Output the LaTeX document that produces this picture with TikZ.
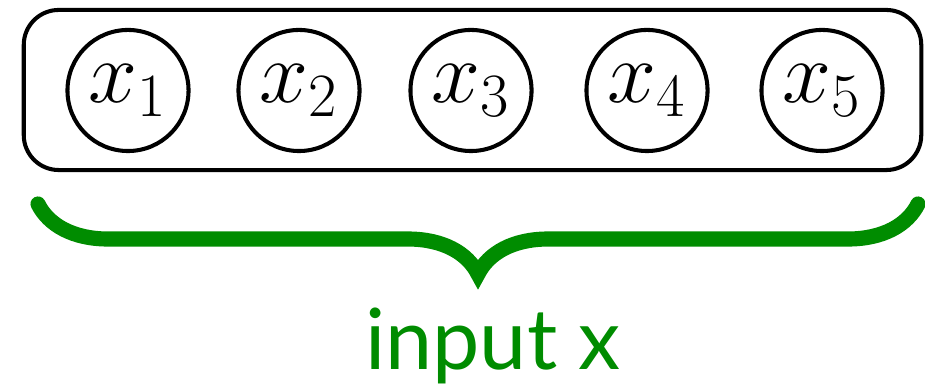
\documentclass[tikz,border=0pt]{standalone}
\usepackage{fix-cm}
\usepackage{fontspec}
\newfontfamily\labelfont{Lato}
\usetikzlibrary{shapes,positioning,calc,decorations.pathreplacing}
\definecolor{cgreen}{HTML}{008C00}

\begin{document}
\begin{tikzpicture}[x=0.01cm, y=-0.01cm,
      inp/.style={draw, circle, line width=1.15pt, minimum size=1.21cm, inner sep=0pt, font=\fontsize{25}{30}\selectfont},
      frame/.style={draw, rounded corners=0.35cm, line width=1.15pt, minimum width=8.97cm, minimum height=1.6cm},
      brc/.style={cgreen, line width=4.3pt, line cap=round, decorate, decoration={brace, mirror, amplitude=0.7cm}}
    ]
    \useasboundingbox (0,0) rectangle (925,389);
    \node[frame] (box) at (472.5,90) {};
    \node[inp] (x1) at (128,90.5) {$x_1$};
    \node[inp] (x2) at (299,90.5) {$x_2$};
    \node[inp] (x3) at (471,90.5) {$x_3$};
    \node[inp] (x4) at (647,90.5) {$x_4$};
    \node[inp] (x5) at (822,90.5) {$x_5$};
    \coordinate (bl) at (38,204);
    \coordinate (br) at (918,204);
    \draw[brc] (bl) -- (br);
    \node[text=cgreen, font=\labelfont\fontsize{24}{28}\selectfont, anchor=base] (lbl) at (493,370) {input x};
  \end{tikzpicture}
\end{document}
